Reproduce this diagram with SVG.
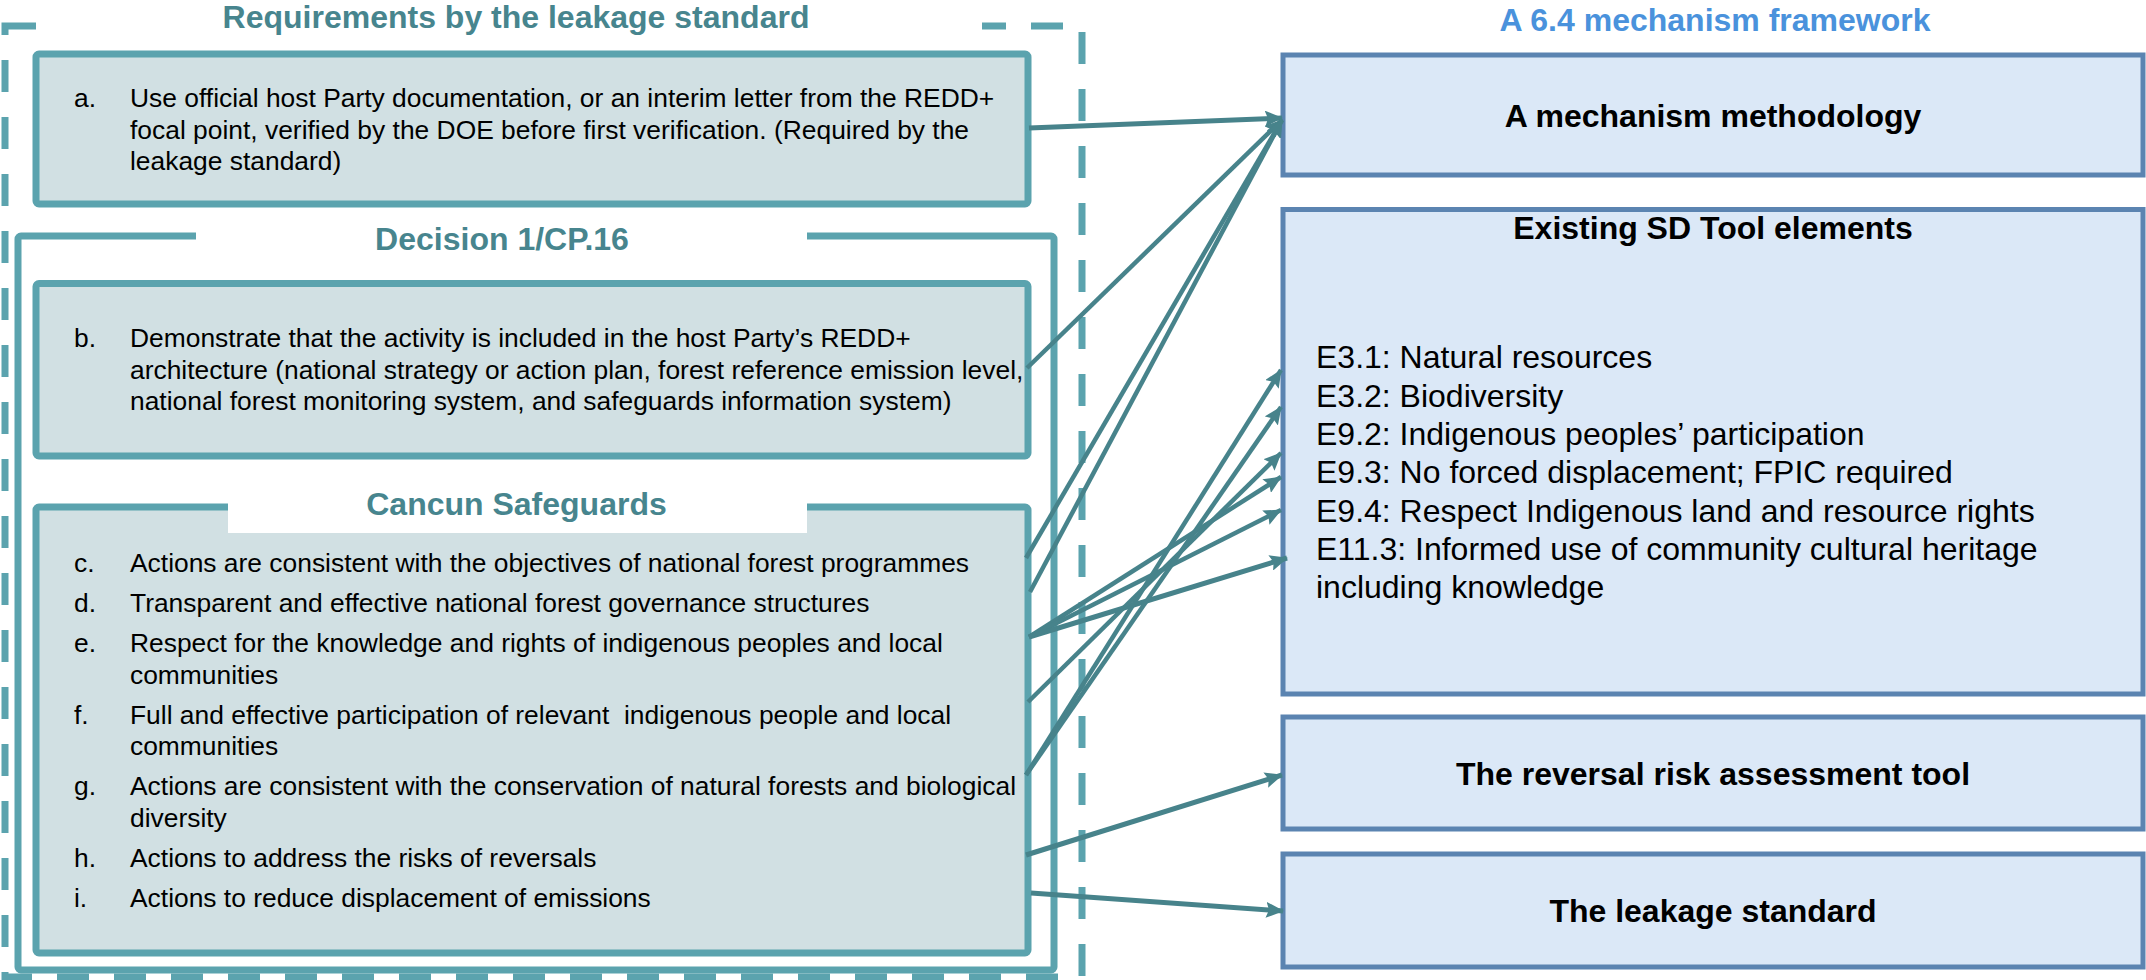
<svg xmlns="http://www.w3.org/2000/svg" width="2146" height="980" viewBox="0 0 2146 980">
<defs>
<style>
.lbox{fill:#D1E0E3;stroke:#5BA3AE;stroke-width:7}
.frame{fill:none;stroke:#5BA3AE;stroke-width:7}
.dash{fill:none;stroke:#5BA3AE;stroke-width:7;stroke-dasharray:32 25}
.rbox{fill:#DBE8F7;stroke:#5B84B1;stroke-width:5}
.t{font-family:"Liberation Sans",Arial,sans-serif;font-size:26.4px;fill:#000}
.rt{font-family:"Liberation Sans",Arial,sans-serif;font-size:32px;fill:#000}
.rb{font-family:"Liberation Sans",Arial,sans-serif;font-size:32px;font-weight:bold;fill:#000;text-anchor:middle}
.ht{font-family:"Liberation Sans",Arial,sans-serif;font-size:32px;font-weight:bold;fill:#47858E;text-anchor:middle}
.hb{font-family:"Liberation Sans",Arial,sans-serif;font-size:32px;font-weight:bold;fill:#4A92DC;text-anchor:middle}
.c{fill:none;stroke:#47838B;stroke-width:4.5;marker-end:url(#ah)}
</style>
<marker id="ah" markerUnits="userSpaceOnUse" markerWidth="18" markerHeight="16" viewBox="0 0 18 16" refX="17" refY="8" orient="auto">
<path d="M0,0 L18,8 L0,16 L3,8 z" fill="#47838B"/>
</marker>
</defs>
<rect width="2146" height="980" fill="#fff"/>

<g id="leakage-requirements">
<rect class="dash" x="5" y="26" width="1077" height="951"/>
<rect x="36" y="12" width="946" height="32" fill="#fff"/>
<text class="ht" x="516" y="28">Requirements by the leakage standard</text>
</g>

<g id="node-a">
<rect class="lbox" x="36" y="54" width="992" height="150" rx="3"/>
<text class="t" x="74" y="107">a.</text>
<text class="t" x="130" y="107">Use official host Party documentation, or an interim letter from the REDD+</text>
<text class="t" x="130" y="138.5">focal point, verified by the DOE before first verification. (Required by the</text>
<text class="t" x="130" y="170">leakage standard)</text>
</g>

<g id="decision">
<rect class="frame" x="18" y="236" width="1036" height="734" rx="3"/>
<rect x="196" y="222" width="611" height="40" fill="#fff"/>
<text class="ht" x="502" y="250">Decision 1/CP.16</text>
</g>

<g id="node-b">
<rect class="lbox" x="36" y="283.5" width="992" height="172.5" rx="3"/>
<text class="t" x="74" y="347">b.</text>
<text class="t" x="130" y="347">Demonstrate that the activity is included in the host Party’s REDD+</text>
<text class="t" x="130" y="378.5">architecture (national strategy or action plan, forest reference emission level,</text>
<text class="t" x="130" y="410">national forest monitoring system, and safeguards information system)</text>
</g>

<g id="cancun">
<rect class="lbox" x="36" y="507" width="992" height="446" rx="3"/>
<rect x="228" y="492" width="579" height="41" fill="#fff"/>
<text class="ht" x="516.5" y="515">Cancun Safeguards</text>
<text class="t" x="74" y="572">c.</text>
<text class="t" x="130" y="572">Actions are consistent with the objectives of national forest programmes</text>
<text class="t" x="74" y="612">d.</text>
<text class="t" x="130" y="612">Transparent and effective national forest governance structures</text>
<text class="t" x="74" y="652">e.</text>
<text class="t" x="130" y="652">Respect for the knowledge and rights of indigenous peoples and local</text>
<text class="t" x="130" y="683.5">communities</text>
<text class="t" x="74" y="723.5">f.</text>
<text class="t" x="130" y="723.5" xml:space="preserve">Full and effective participation of relevant  indigenous people and local</text>
<text class="t" x="130" y="755">communities</text>
<text class="t" x="74" y="795">g.</text>
<text class="t" x="130" y="795">Actions are consistent with the conservation of natural forests and biological</text>
<text class="t" x="130" y="827">diversity</text>
<text class="t" x="74" y="867">h.</text>
<text class="t" x="130" y="867">Actions to address the risks of reversals</text>
<text class="t" x="74" y="907">i.</text>
<text class="t" x="130" y="907">Actions to reduce displacement of emissions</text>
</g>

<g id="framework-title">
<text class="hb" x="1715" y="31">A 6.4 mechanism framework</text>
</g>

<g id="node-methodology">
<rect class="rbox" x="1283" y="55" width="860" height="120"/>
<text class="rb" x="1713" y="127">A mechanism methodology</text>
</g>

<g id="node-sd-tool">
<rect class="rbox" x="1283" y="209.5" width="860" height="484.5"/>
<text class="rb" x="1713" y="239">Existing SD Tool elements</text>
<text class="rt" x="1316" y="368">E3.1: Natural resources</text>
<text class="rt" x="1316" y="407">E3.2: Biodiversity</text>
<text class="rt" x="1316" y="445">E9.2: Indigenous peoples’ participation</text>
<text class="rt" x="1316" y="483">E9.3: No forced displacement; FPIC required</text>
<text class="rt" x="1316" y="522">E9.4: Respect Indigenous land and resource rights</text>
<text class="rt" x="1316" y="560">E11.3: Informed use of community cultural heritage</text>
<text class="rt" x="1316" y="598">including knowledge</text>
</g>

<g id="node-reversal">
<rect class="rbox" x="1283" y="717" width="860" height="112"/>
<text class="rb" x="1713" y="785">The reversal risk assessment tool</text>
</g>

<g id="node-leakage">
<rect class="rbox" x="1283" y="854" width="860" height="113"/>
<text class="rb" x="1713" y="922">The leakage standard</text>
</g>

<g id="connectors">
<path class="c" d="M1029,128 L1282,118" style="stroke-width:5"/>
<path class="c" d="M1027,368 L1282,120"/>
<path class="c" d="M1026,558 L1282,120"/>
<path class="c" d="M1030,592 L1282,120"/>
<path class="c" d="M1029,637 L1281,477"/>
<path class="c" d="M1029,637 L1281,510"/>
<path class="c" d="M1029,637 L1287,558" style="stroke-width:5"/>
<path class="c" d="M1028,702 L1281,453"/>
<path class="c" d="M1026,775 L1281,370"/>
<path class="c" d="M1026,775 L1281,407"/>
<path class="c" d="M1026,855 L1282,775" style="stroke-width:5"/>
<path class="c" d="M1031,893 L1283,911" style="stroke-width:5"/>
</g>
</svg>
